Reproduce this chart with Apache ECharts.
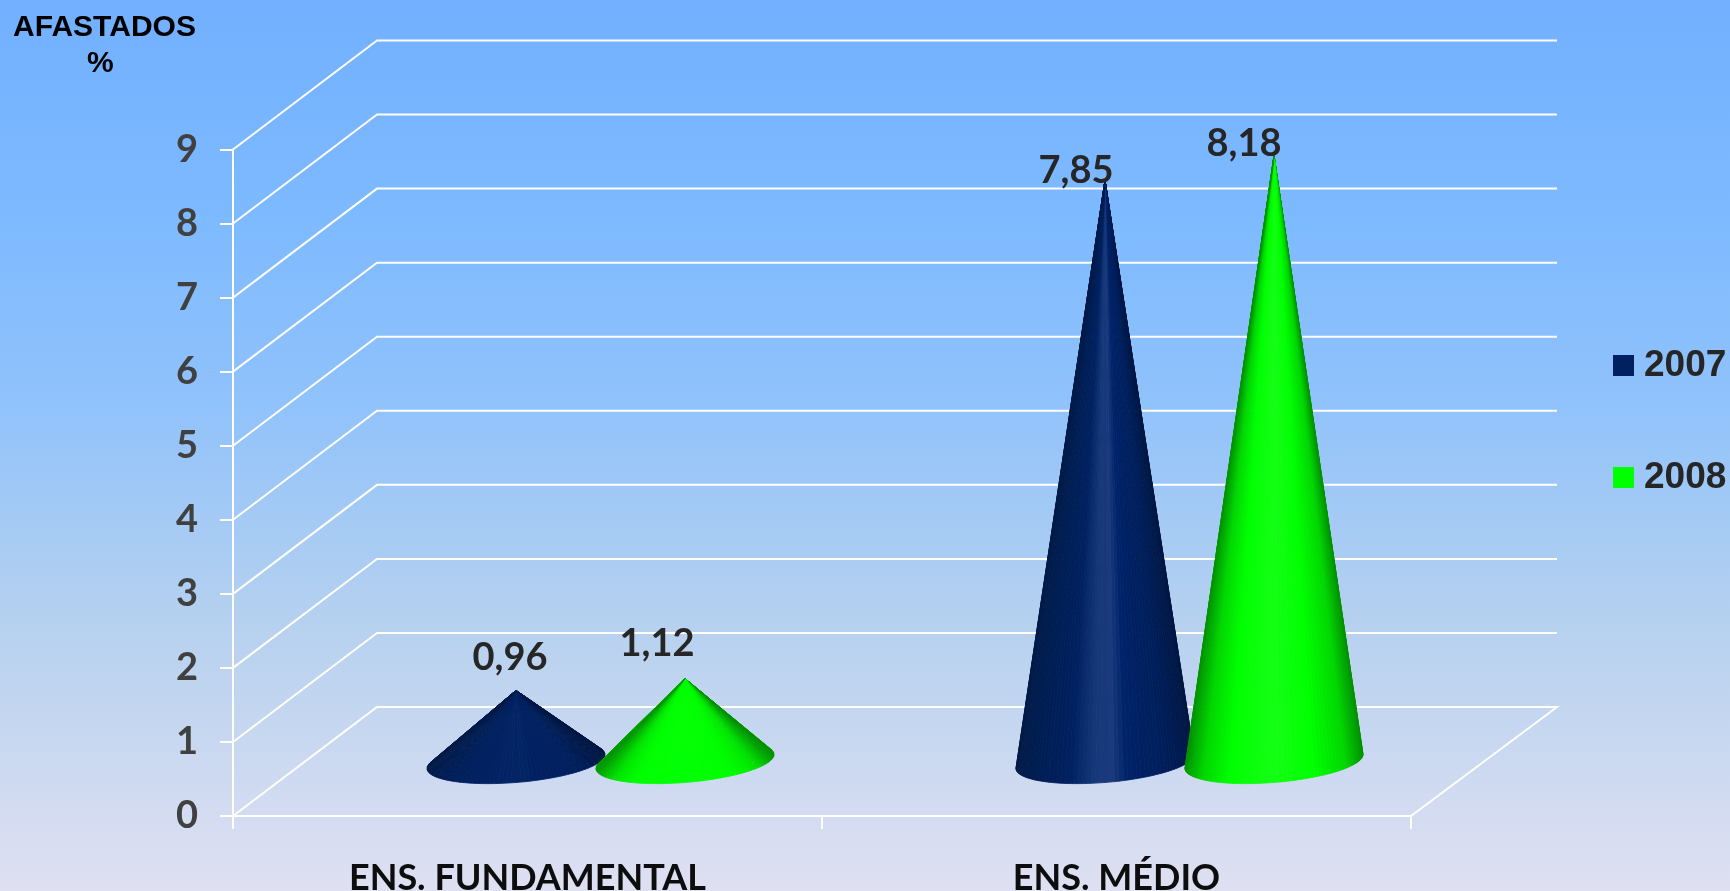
<!DOCTYPE html>
<html><head><meta charset="utf-8">
<style>html,body{margin:0;padding:0;background:#dee0f2;overflow:hidden}#c{width:1730px;height:891px}</style>
<script src="https://cdn.jsdelivr.net/npm/echarts@6/dist/echarts.min.js"></script>
</head><body><div id="c"></div>
<script>
const categories = ['ENS. FUNDAMENTAL', 'ENS. MÉDIO'];
const years = ['2007', '2008'];
const values2007 = [0.96, 7.85];
const values2008 = [1.12, 8.18];
const yTicks = [0, 1, 2, 3, 4, 5, 6, 7, 8, 9];

// Style constants
const DEPTH_X = 146, DEPTH_Y = 109, WALL_EXTRA = 146;
const CONE_SHIFT = 84.5, CONE_A = 89, CONE_B = 21, CONE_T = 7;
const seriesColor = ['#002060', '#00ff00'];
const shades = [
  [[0,[0,26,72]],[0.12,[0,30,84]],[0.3,[0,32,96]],[0.44,[22,56,122]],[0.54,[26,58,124]],[0.62,[0,34,104]],[0.85,[0,30,90]],[1,[0,22,66]]],
  [[0,[0,150,0]],[0.1,[0,215,0]],[0.25,[0,255,0]],[0.5,[20,255,20]],[0.72,[0,255,0]],[0.9,[0,215,0]],[1,[0,145,0]]]
];
const flatBase = [[0,32,96],[0,255,0]];
const labelShift = [[[-5,-33],[-28,-9]],[[-27,-35],[-29,-12]]];

function shade(s, t, flat) {
  const st = shades[s];
  let c = st[st.length-1][1];
  for (let i = 1; i < st.length; i++) {
    if (t <= st[i][0]) {
      const k = (t - st[i-1][0]) / (st[i][0] - st[i-1][0]);
      c = st[i-1][1].map((v, j) => v + (st[i][1][j] - v) * k);
      break;
    }
  }
  if (flat) {
    const m = 0.85 * Math.min(1, Math.min(t, 1 - t) / 0.3);
    c = c.map((v, j) => v + (flatBase[s][j] - v) * m);
  }
  return 'rgb(' + c.map(Math.round).join(',') + ')';
}

function renderCone(params, api) {
  const s = params.seriesIndex - 1;
  const cat = api.value(0), val = api.value(1);
  const zero = api.coord([cat, 0]), top = api.coord([cat, val]);
  const cx = zero[0] + DEPTH_X / 2 + (s === 0 ? -CONE_SHIFT : CONE_SHIFT);
  const cy = zero[1] - DEPTH_Y / 2;
  const ax = cx, ay = cy - (zero[1] - top[1]);
  const flat = (zero[1] - top[1]) < 200;
  const N = 120, pts = [];
  let iR = 0, iL = 0, mx = -9, mn = 9;
  for (let i = 0; i < N; i++) {
    const th = i / N * Math.PI * 2;
    const p = [cx + CONE_A * Math.cos(th), cy - CONE_T * Math.cos(th) + CONE_B * Math.sin(th)];
    pts.push(p);
    const ang = Math.atan2(p[0] - ax, p[1] - ay);
    if (ang > mx) { mx = ang; iR = i; }
    if (ang < mn) { mn = ang; iL = i; }
  }
  const children = [];
  let i = iR, guard = 0;
  while (i !== iL && guard++ < N) {
    const j = (i + 1) % N;
    const t = ((pts[i][0] + pts[j][0]) / 2 - (cx - CONE_A)) / (2 * CONE_A);
    const c = shade(s, t, flat);
    children.push({ type: 'polygon', shape: { points: [[ax, ay], pts[i], pts[j]] },
      style: { fill: c, stroke: c, lineWidth: 0.8 } });
    i = j;
  }
  const off = labelShift[s][cat];
  children.push({ type: 'text', style: {
    text: val.toFixed(2).replace('.', ','), x: ax + off[0] - 1, y: ay + off[1],
    align: 'center', verticalAlign: 'middle',
    font: 'bold 38px Lato', fill: '#262626' } });
  return { type: 'group', children };
}

function renderWall(params, api) {
  const v = api.value(1);
  const p = api.coord([0, v]);
  const w = api.size([1, 0])[0];
  const x0 = p[0] - w / 2, y0 = p[1];
  const x1 = x0 + 144, y1 = y0 - DEPTH_Y;
  const x2 = x0 + 2 * w + WALL_EXTRA;
  const line = { stroke: '#ffffff', lineWidth: 2, fill: null };
  const pts = [[x0, y0], [x1, y1], [x2, y1]];
  if (v === 0) pts.push([x0 + 2 * w, y0]);
  return { type: 'polyline', shape: { points: pts }, style: line };
}

const chart = echarts.init(document.getElementById('c'), null, { renderer: 'canvas' });
const axisLine = { show: true, lineStyle: { color: '#ffffff', width: 2 } };
const axisTick = { show: true, length: 13, lineStyle: { color: '#ffffff', width: 2 } };
chart.setOption({
  animation: false,
  backgroundColor: { type: 'linear', x: 0, y: 0, x2: 0, y2: 1, colorStops: [
    { offset: 0, color: '#72b0ff' },
    { offset: 0.25, color: '#7ebaff' },
    { offset: 0.45, color: '#90c2fb' },
    { offset: 0.7, color: '#b6d1ef' },
    { offset: 1, color: '#dfe0f2' } ] },
  grid: { left: 233, right: 319, top: 149.5, bottom: 75, outerBoundsMode: 'none' },
  title: { text: 'AFASTADOS\n%\u00a0', left: 99.5, top: 5, textAlign: 'center',
    textStyle: { fontFamily: 'Liberation Sans', fontWeight: 'bold', fontSize: 30, lineHeight: 35.5, color: '#000000' } },
  legend: { orient: 'vertical', left: 1613, top: 343.5, padding: 0, itemGap: 68, itemWidth: 21, itemHeight: 21,
    selectedMode: false, icon: 'rect',
    data: years.map((y, i) => ({ name: y, icon: 'rect', itemStyle: { color: seriesColor[i] } })),
    textStyle: { fontFamily: 'Liberation Sans', fontWeight: 'bold', fontSize: 37, lineHeight: 36, color: '#262626', padding: [8, 0, 0, 5] } },
  xAxis: { type: 'category', data: categories, boundaryGap: true, axisLine, axisTick,
    axisLabel: { margin: 44, fontFamily: 'Lato', fontWeight: 'bold', fontSize: 36, color: '#0d0d0d', interval: 0 } },
  yAxis: { type: 'value', min: 0, max: 9, interval: 1, axisLine, axisTick, splitLine: { show: false },
    axisLabel: { margin: 35, fontFamily: 'Lato', fontWeight: 'bold', fontSize: 38, color: '#404040', padding: [6, 0, 0, 0],
      formatter: v => yTicks.includes(v) ? String(v) : '' } },
  series: [
    { type: 'custom', name: 'walls', silent: true, z: 1, renderItem: renderWall,
      data: yTicks.map(v => [0, v]), encode: { x: 0, y: 1 } },
    { type: 'custom', name: years[0], z: 2, renderItem: renderCone, itemStyle: { color: seriesColor[0] },
      data: values2007.map((v, i) => [i, v]), encode: { x: 0, y: 1 } },
    { type: 'custom', name: years[1], z: 3, renderItem: renderCone, itemStyle: { color: seriesColor[1] },
      data: values2008.map((v, i) => [i, v]), encode: { x: 0, y: 1 } }
  ]
});
</script></body></html>
